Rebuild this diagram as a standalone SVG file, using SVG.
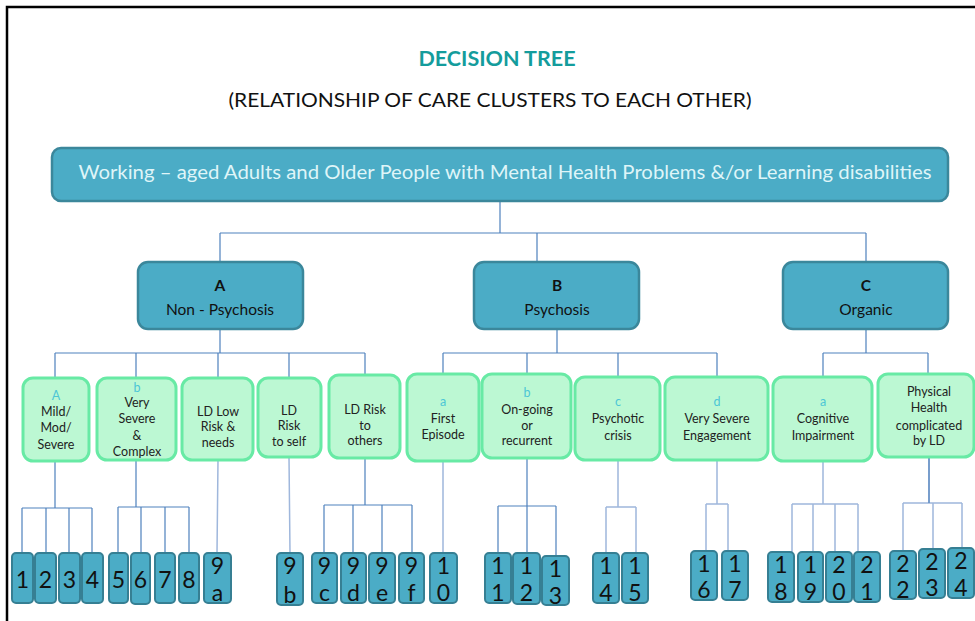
<svg xmlns="http://www.w3.org/2000/svg" width="975" height="621" viewBox="0 0 975 621">
<style>
.t{font-family:Lato,"Open Sans","Liberation Sans",sans-serif}
.main{fill:#4bacc6;stroke:#3b879b;stroke-width:2.5}
.sub{fill:#bcf8d3;stroke:#68eaa5;stroke-width:3}
.leaf{fill:#4bacc6;stroke:#367f93;stroke-width:2}
.c{fill:none;stroke:#4f81bd;stroke-width:1.2}
.cl{fill:none;stroke:#9fb7dc;stroke-width:1.5}
.lbl{font-family:Lato,"Open Sans","Liberation Sans",sans-serif;font-size:12.5px;fill:#222;text-anchor:middle}
.let{fill:#4cc6d6}
.abc{font-family:Lato,"Open Sans","Liberation Sans",sans-serif;font-size:15.5px;fill:#111;text-anchor:middle}
.num{font-family:Lato,"Open Sans","Liberation Sans",sans-serif;font-size:23px;fill:#111;text-anchor:middle}
</style>
<rect width="975" height="621" fill="#fff"/>
<path d="M7,621 V7 H975" fill="none" stroke="#000" stroke-width="2.5"/>
<text class="t" x="497" y="66" font-size="21.5" font-weight="bold" fill="#149c9c" text-anchor="middle">DECISION TREE</text>
<text class="t" x="490" y="107" font-size="19" fill="#111" text-anchor="middle" textLength="523" lengthAdjust="spacingAndGlyphs">(RELATIONSHIP OF CARE CLUSTERS TO EACH OTHER)</text>

<g id="connectors">
<path class="c" d="M500,201 V233 M220,233 H866 M220,233 V262 M537,233 V262 M866,233 V262"/>
<path class="c" d="M220,330 V353 M55,353 H365 M55,353 V378 M136,353 V378 M218,353 V378 M289,353 V378 M365,353 V375"/>
<path class="c" d="M557,329 V353 M443,353 H717 M443,353 V374 M527,353 V374 M618,353 V377 M717,353 V377"/>
<path class="c" d="M866,329 V353 M823,353 H928 M823,353 V377 M928,353 V374"/>
<path class="c" d="M55,461 V508 M22,508 H92 M22,508 V553 M46,508 V553 M69,508 V553 M92,508 V553"/>
<path class="c" d="M136,460 V507 M118,507 H189 M118,507 V553 M141,507 V553 M165,507 V553 M189,507 V553"/>
<path class="cl" d="M218,460 L217,553 M289,457 L290,553 M443,461 V553"/>
<path class="c" d="M365,458 V505 M324,505 H412 M324,505 V553 M353,505 V553 M382,505 V553 M412,505 V553"/>
<path class="c" d="M527,458 V506 M498,506 H556 M498,506 V553 M527,506 V553 M556,506 V556"/>
<path class="cl" d="M618,460 V507 M606,507 H636 M606,507 V553 M636,507 V553"/>
<path class="cl" d="M717,460 V504 M706,504 H728 M706,504 V551 M728,504 V551"/>
<path class="cl" d="M823,461 V504 M792,504 H858 M792,504 V552 M813,504 V552 M835,504 V552 M858,504 V552"/>
<path class="cl" d="M929,457 V503 M903,503 H962 M903,503 V551 M933,503 V549 M962,503 V548"/>
<path class="c" d="M929,457 V503"/>
</g>

<g id="root">
<rect class="main" x="52" y="148" width="896" height="53" rx="9"/>
<text class="t" x="505" y="179" font-size="18.5" fill="#dff5f8" text-anchor="middle" textLength="853" lengthAdjust="spacingAndGlyphs">Working – aged Adults and Older People with Mental Health Problems &amp;/or Learning disabilities</text>
</g>

<g id="nodeA">
<rect class="main" x="138" y="262" width="165" height="67" rx="10"/>
<text class="abc" x="220" y="291" font-weight="bold">A</text>
<text class="abc" x="220" y="315">Non - Psychosis</text>
</g>
<g id="nodeB">
<rect class="main" x="474" y="262" width="165" height="67" rx="10"/>
<text class="abc" x="557" y="291" font-weight="bold">B</text>
<text class="abc" x="557" y="315">Psychosis</text>
</g>
<g id="nodeC">
<rect class="main" x="783" y="262" width="165" height="67" rx="10"/>
<text class="abc" x="866" y="291" font-weight="bold">C</text>
<text class="abc" x="866" y="315">Organic</text>
</g>

<g id="nodeA-a">
<rect class="sub" x="23" y="378" width="66" height="83" rx="10"/>
<text class="lbl let" x="56" y="400">A</text>
<text class="lbl" x="56" y="416">Mild/</text>
<text class="lbl" x="56" y="432">Mod/</text>
<text class="lbl" x="56" y="449">Severe</text>
</g>
<g id="nodeA-b">
<rect class="sub" x="97" y="378" width="79" height="82" rx="10"/>
<text class="lbl let" x="137" y="392">b</text>
<text class="lbl" x="137" y="407">Very</text>
<text class="lbl" x="137" y="423">Severe</text>
<text class="lbl" x="137" y="440">&amp;</text>
<text class="lbl" x="137" y="456">Complex</text>
</g>
<g id="nodeA-ldlow">
<rect class="sub" x="182" y="378" width="71" height="82" rx="10"/>
<text class="lbl" x="218" y="416">LD Low</text>
<text class="lbl" x="218" y="431">Risk &amp;</text>
<text class="lbl" x="218" y="447">needs</text>
</g>
<g id="nodeA-ldself">
<rect class="sub" x="258" y="378" width="63" height="79" rx="10"/>
<text class="lbl" x="289" y="415">LD</text>
<text class="lbl" x="289" y="430">Risk</text>
<text class="lbl" x="289" y="446">to self</text>
</g>
<g id="nodeA-ldothers">
<rect class="sub" x="329" y="375" width="71" height="83" rx="10"/>
<text class="lbl" x="365" y="414">LD Risk</text>
<text class="lbl" x="365" y="430">to</text>
<text class="lbl" x="365" y="445">others</text>
</g>
<g id="nodeB-a">
<rect class="sub" x="407" y="374" width="72" height="87" rx="10"/>
<text class="lbl let" x="443" y="406">a</text>
<text class="lbl" x="443" y="423">First</text>
<text class="lbl" x="443" y="439">Episode</text>
</g>
<g id="nodeB-b">
<rect class="sub" x="482" y="374" width="89" height="84" rx="10"/>
<text class="lbl let" x="527" y="397">b</text>
<text class="lbl" x="527" y="414">On-going</text>
<text class="lbl" x="527" y="430">or</text>
<text class="lbl" x="527" y="445">recurrent</text>
</g>
<g id="nodeB-c">
<rect class="sub" x="575" y="377" width="85" height="83" rx="10"/>
<text class="lbl let" x="618" y="406">c</text>
<text class="lbl" x="618" y="423">Psychotic</text>
<text class="lbl" x="618" y="440">crisis</text>
</g>
<g id="nodeB-d">
<rect class="sub" x="665" y="377" width="103" height="83" rx="10"/>
<text class="lbl let" x="717" y="406">d</text>
<text class="lbl" x="717" y="423">Very Severe</text>
<text class="lbl" x="717" y="440">Engagement</text>
</g>
<g id="nodeC-a">
<rect class="sub" x="773" y="377" width="99" height="84" rx="10"/>
<text class="lbl let" x="823" y="406">a</text>
<text class="lbl" x="823" y="423">Cognitive</text>
<text class="lbl" x="823" y="440">Impairment</text>
</g>
<g id="nodeC-ld">
<rect class="sub" x="878" y="374" width="96" height="83" rx="10"/>
<text class="lbl" x="929" y="396">Physical</text>
<text class="lbl" x="929" y="412">Health</text>
<text class="lbl" x="929" y="430">complicated</text>
<text class="lbl" x="929" y="445">by LD</text>
</g>

<g id="leaf-1"><rect class="leaf" x="12" y="553" width="21" height="50" rx="4"/><text class="num" x="22.5" y="588">1</text></g>
<g id="leaf-2"><rect class="leaf" x="35" y="553" width="21" height="50" rx="4"/><text class="num" x="45.5" y="588">2</text></g>
<g id="leaf-3"><rect class="leaf" x="59" y="553" width="21" height="50" rx="4"/><text class="num" x="69.5" y="588">3</text></g>
<g id="leaf-4"><rect class="leaf" x="82" y="553" width="21" height="50" rx="4"/><text class="num" x="92.5" y="588">4</text></g>
<g id="leaf-5"><rect class="leaf" x="109" y="553" width="19" height="50" rx="4"/><text class="num" x="118.5" y="588">5</text></g>
<g id="leaf-6"><rect class="leaf" x="131" y="553" width="19" height="51" rx="4"/><text class="num" x="140.5" y="588">6</text></g>
<g id="leaf-7"><rect class="leaf" x="155" y="553" width="20" height="50" rx="4"/><text class="num" x="165" y="588">7</text></g>
<g id="leaf-8"><rect class="leaf" x="179" y="553" width="20" height="50" rx="4"/><text class="num" x="189" y="588">8</text></g>
<g id="leaf-9a"><rect class="leaf" x="204" y="553" width="27" height="50" rx="4"/><text class="num" x="217.5" y="574">9</text><text class="num" x="217.5" y="601">a</text></g>
<g id="leaf-9b"><rect class="leaf" x="277" y="553" width="26" height="52" rx="4"/><text class="num" x="290" y="574">9</text><text class="num" x="290" y="603">b</text></g>
<g id="leaf-9c"><rect class="leaf" x="312" y="553" width="25" height="50" rx="4"/><text class="num" x="324.5" y="574">9</text><text class="num" x="324.5" y="601">c</text></g>
<g id="leaf-9d"><rect class="leaf" x="341" y="553" width="25" height="50" rx="4"/><text class="num" x="353.5" y="574">9</text><text class="num" x="353.5" y="601">d</text></g>
<g id="leaf-9e"><rect class="leaf" x="369" y="553" width="26" height="50" rx="4"/><text class="num" x="382" y="574">9</text><text class="num" x="382" y="601">e</text></g>
<g id="leaf-9f"><rect class="leaf" x="399" y="553" width="25" height="50" rx="4"/><text class="num" x="411.5" y="574">9</text><text class="num" x="411.5" y="601">f</text></g>
<g id="leaf-10"><rect class="leaf" x="430" y="553" width="27" height="50" rx="4"/><text class="num" x="443.5" y="574">1</text><text class="num" x="443.5" y="601">0</text></g>
<g id="leaf-11"><rect class="leaf" x="485" y="553" width="26" height="50" rx="4"/><text class="num" x="498" y="574">1</text><text class="num" x="498" y="601">1</text></g>
<g id="leaf-12"><rect class="leaf" x="513" y="553" width="27" height="51" rx="4"/><text class="num" x="526.5" y="574">1</text><text class="num" x="526.5" y="601">2</text></g>
<g id="leaf-13"><rect class="leaf" x="542" y="556" width="27" height="49" rx="4"/><text class="num" x="555.5" y="577">1</text><text class="num" x="555.5" y="604">3</text></g>
<g id="leaf-14"><rect class="leaf" x="593" y="553" width="26" height="50" rx="4"/><text class="num" x="606" y="574">1</text><text class="num" x="606" y="601">4</text></g>
<g id="leaf-15"><rect class="leaf" x="622" y="553" width="26" height="50" rx="4"/><text class="num" x="635" y="574">1</text><text class="num" x="635" y="601">5</text></g>
<g id="leaf-16"><rect class="leaf" x="691" y="551" width="26" height="49" rx="4"/><text class="num" x="704" y="572">1</text><text class="num" x="704" y="598">6</text></g>
<g id="leaf-17"><rect class="leaf" x="722" y="551" width="26" height="49" rx="4"/><text class="num" x="735" y="572">1</text><text class="num" x="735" y="598">7</text></g>
<g id="leaf-18"><rect class="leaf" x="768" y="552" width="26" height="50" rx="4"/><text class="num" x="781" y="573">1</text><text class="num" x="781" y="600">8</text></g>
<g id="leaf-19"><rect class="leaf" x="798" y="552" width="25" height="50" rx="4"/><text class="num" x="810.5" y="573">1</text><text class="num" x="810.5" y="600">9</text></g>
<g id="leaf-20"><rect class="leaf" x="826" y="552" width="26" height="50" rx="4"/><text class="num" x="839" y="573">2</text><text class="num" x="839" y="600">0</text></g>
<g id="leaf-21"><rect class="leaf" x="854" y="552" width="26" height="50" rx="4"/><text class="num" x="867" y="573">2</text><text class="num" x="867" y="600">1</text></g>
<g id="leaf-22"><rect class="leaf" x="890" y="551" width="26" height="48" rx="4"/><text class="num" x="903" y="572">2</text><text class="num" x="903" y="598">2</text></g>
<g id="leaf-23"><rect class="leaf" x="919" y="549" width="26" height="49" rx="4"/><text class="num" x="932" y="570">2</text><text class="num" x="932" y="596">3</text></g>
<g id="leaf-24"><rect class="leaf" x="948" y="548" width="26" height="50" rx="4"/><text class="num" x="961" y="569">2</text><text class="num" x="961" y="596">4</text></g>
</svg>
